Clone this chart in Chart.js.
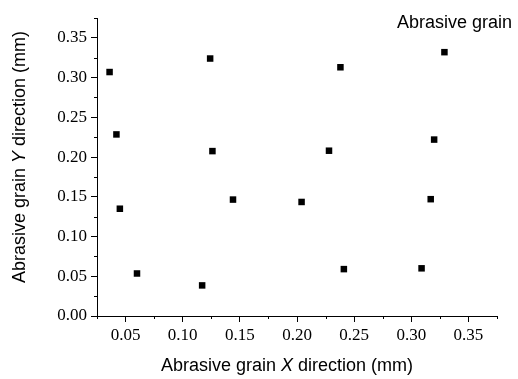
<!DOCTYPE html>
<html>
<head>
<meta charset="utf-8">
<script src="https://cdn.jsdelivr.net/npm/chart.js@4.4.1/dist/chart.umd.min.js"></script>
<style>
    body { margin: 0; background: #fff; }
    #wrap { width: 518px; height: 379px; position: relative; }
</style>
</head>
<body>
<div id="wrap"><canvas id="graficoGraos"></canvas></div>
<script>
// Posições dos grãos (mm)
const grainX = [0.036, 0.042, 0.045, 0.060, 0.124, 0.126, 0.144, 0.117, 0.204, 0.228, 0.238, 0.241, 0.309, 0.317, 0.320, 0.329];
const grainY = [0.307, 0.2285, 0.135, 0.0535, 0.324, 0.2075, 0.1465, 0.0385, 0.1435, 0.208, 0.313, 0.059, 0.060, 0.147, 0.222, 0.332];
const xTicks = [0.05, 0.10, 0.15, 0.20, 0.25, 0.30, 0.35];
const yTicks = [0.00, 0.05, 0.10, 0.15, 0.20, 0.25, 0.30, 0.35];
const minorTicks = [0.025, 0.075, 0.125, 0.175, 0.225, 0.275, 0.325, 0.375];
const serieNome = 'Abrasive grain';

const pontos = grainX.map((x, i) => ({ x: x, y: grainY[i] }));

// escreve texto com partes em itálico, centrado em (cx, cy)
function textoMisto(ctx, partes, cx, cy, tamanho) {
    let total = 0;
    partes.forEach(p => {
        ctx.font = (p.italic ? 'italic ' : '') + tamanho + 'px "Liberation Sans", Arial, sans-serif';
        p.w = ctx.measureText(p.t).width;
        total += p.w;
    });
    let x = cx - total / 2;
    ctx.textAlign = 'left';
    ctx.textBaseline = 'middle';
    partes.forEach(p => {
        ctx.font = (p.italic ? 'italic ' : '') + tamanho + 'px "Liberation Sans", Arial, sans-serif';
        ctx.fillText(p.t, x, cy);
        x += p.w;
    });
}

const extras = {
    id: 'extras',
    afterDraw(chart) {
        const ctx = chart.ctx;
        const sx = chart.scales.x;
        const sy = chart.scales.y;
        ctx.save();
        ctx.strokeStyle = '#000';
        ctx.lineWidth = 1;
        // ticks menores
        ctx.beginPath();
        minorTicks.forEach(v => {
            const px = Math.round(sx.getPixelForValue(v)) + 0.5;
            ctx.moveTo(px, sx.top);
            ctx.lineTo(px, sx.top + 3);
            const py = Math.round(sy.getPixelForValue(v)) + 0.5;
            ctx.moveTo(sy.right, py);
            ctx.lineTo(sy.right - 3, py);
        });
        ctx.stroke();

        ctx.fillStyle = '#000';
        // título do eixo X
        textoMisto(ctx, [
            { t: 'Abrasive grain ' },
            { t: 'X', italic: true },
            { t: ' direction (mm)' }
        ], 287, 366, 18);
        // título do eixo Y
        ctx.save();
        ctx.translate(20, 157);
        ctx.rotate(-Math.PI / 2);
        textoMisto(ctx, [
            { t: 'Abrasive grain ' },
            { t: 'Y', italic: true },
            { t: ' direction (mm)' }
        ], 0, 0, 18);
        ctx.restore();
        // legenda
        ctx.font = '18px "Liberation Sans", Arial, sans-serif';
        ctx.textAlign = 'left';
        ctx.textBaseline = 'alphabetic';
        ctx.fillText(chart.data.datasets[0].label, 397, 28);
        ctx.restore();
    }
};

const fonteTicks = { family: '"Liberation Serif", "Times New Roman", serif', size: 17 };

new Chart(document.getElementById('graficoGraos').getContext('2d'), {
    type: 'scatter',
    data: {
        datasets: [{
            label: serieNome,
            data: pontos,
            pointStyle: 'rect',
            pointRadius: 4.6,
            pointBorderWidth: 0,
            backgroundColor: '#000',
            borderColor: '#000'
        }]
    },
    options: {
        responsive: true,
        maintainAspectRatio: false,
        animation: false,
        layout: { padding: { left: 0, top: 18, right: 21, bottom: 0 } },
        plugins: {
            legend: { display: false },
            tooltip: { enabled: false }
        },
        scales: {
            x: {
                type: 'linear',
                min: 0.025,
                max: 0.375,
                afterBuildTicks: scale => { scale.ticks = xTicks.map(v => ({ value: v })); },
                afterFit: scale => { scale.height = 63; },
                grid: { drawOnChartArea: false, drawTicks: true, tickLength: 6, color: '#000' },
                border: { display: true, color: '#000', width: 1 },
                ticks: {
                    color: '#000',
                    font: fonteTicks,
                    padding: 3,
                    maxRotation: 0,
                    callback: v => v.toFixed(2)
                }
            },
            y: {
                type: 'linear',
                min: 0,
                max: 0.375,
                afterBuildTicks: scale => { scale.ticks = yTicks.map(v => ({ value: v })); },
                afterFit: scale => { scale.width = 97; },
                grid: { drawOnChartArea: false, drawTicks: true, tickLength: 6, color: '#000' },
                border: { display: true, color: '#000', width: 1 },
                ticks: {
                    color: '#000',
                    font: fonteTicks,
                    padding: 4,
                    callback: v => v.toFixed(2)
                }
            }
        }
    },
    plugins: [extras]
});
</script>
</body>
</html>
